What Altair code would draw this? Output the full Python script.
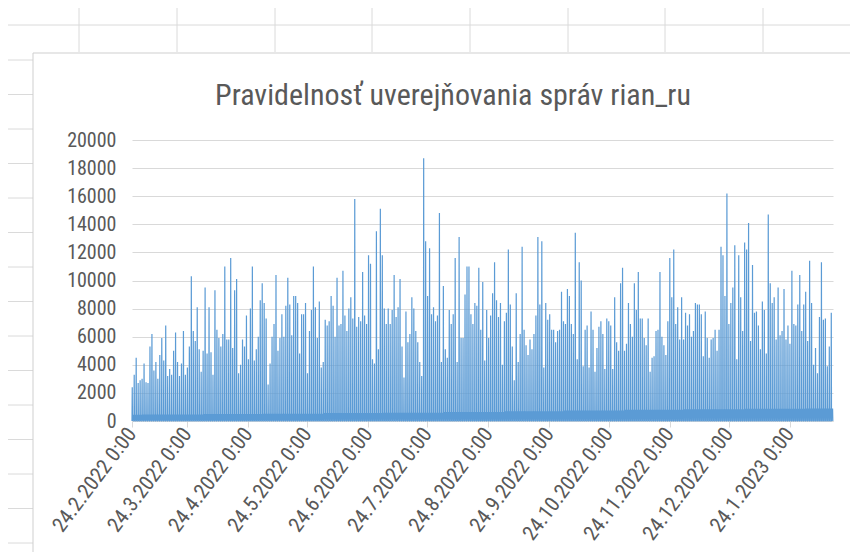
import altair as alt
import pandas as pd

TITLE = "Pravidelnosť uverejňovania správ rian_ru"
START = "2022-02-24"

# daily peak values (one spike per day)
PEAKS = [
    # 24.2. - ~23.4.2022
    2400, 3300, 4500, 2700, 2900, 3000, 4100, 2750, 2700, 5300,
    6200, 3600, 4200, 3000, 4700, 5900, 4300, 6800, 3200, 3700,
    3300, 5000, 6300, 4200, 3200, 4100, 6400, 3300, 3800, 5300,
    10300, 6400, 5700, 8100, 5100, 3500, 5000, 9500, 4800, 8100,
    4900, 3300, 9300, 6500, 5900, 5300, 6200, 11000, 5800, 5800,
    11600, 5200, 9300, 10100, 3400, 4000, 5800, 5300, 7500,
    # ~24.4. - ~22.6.2022
    4400, 8000, 11000, 4300, 5100, 6000, 8600, 9800, 8400, 7300,
    2600, 4100, 6000, 6900, 10400, 5000, 5900, 7600, 6000, 8200,
    10200, 8300, 6100, 8900, 8900, 8400, 4800, 7600, 7600, 8400,
    3400, 6400, 7900, 11000, 8100, 5900, 8500, 3800, 4200, 7200,
    6800, 7100, 8900, 8200, 6000, 10200, 6800, 6900, 10700, 7500,
    6400, 8000, 8800, 7300, 15800, 6700, 7400, 7100, 10600, 7500,
    # ~23.6. - ~21.8.2022
    6900, 11800, 11200, 4400, 4100, 13500, 5100, 15100, 11800, 8000,
    6900, 8000, 6900, 7900, 10400, 7400, 8100, 10100, 5300, 3100,
    7800, 5600, 6200, 8800, 8000, 6400, 5600, 4200, 3200, 18700,
    12800, 8900, 12300, 7600, 8100, 7100, 7500, 14800, 4200, 9600,
    5100, 4500, 7900, 6900, 7600, 11600, 4200, 13100, 5900, 5900,
    9000, 11000, 11000, 7600, 6900, 8400, 8200, 10900, 6500, 9900,
    # ~22.8. - ~20.10.2022
    4300, 7900, 5900, 7500, 9100, 11300, 8600, 7400, 8400, 4000,
    7100, 7700, 12200, 8300, 5300, 2900, 9100, 4200, 6200, 12400,
    6500, 5400, 4700, 5800, 5100, 6200, 7500, 13100, 8300, 12800,
    3800, 8400, 7200, 7600, 6500, 6500, 5600, 6400, 6500, 9200,
    7100, 6900, 9400, 8900, 6900, 6200, 13400, 4400, 11300, 10000,
    3900, 6500, 6800, 3800, 7800, 6500, 3500, 5200, 6700, 7100,
    # ~21.10. - ~19.12.2022
    6200, 3700, 7300, 7100, 6800, 3700, 8800, 5600, 5000, 9800,
    10900, 5000, 5500, 8400, 6900, 6000, 9800, 7900, 10600, 7300,
    7300, 5900, 5400, 7300, 3500, 4500, 4600, 6400, 6500, 10600,
    6000, 5400, 4700, 7100, 11600, 8800, 12200, 6900, 8100, 5800,
    8800, 5800, 7700, 6800, 7600, 6000, 6400, 8400, 8300, 8300,
    7600, 4600, 7800, 5900, 4500, 5800, 5900, 6500, 5000, 6500,
    # ~20.12.2022 - ~14.2.2023
    12400, 11800, 8900, 16200, 6900, 8400, 9500, 12500, 4400, 11800,
    8800, 6400, 12700, 12200, 14100, 5700, 11100, 7700, 7800, 6800,
    5100, 8500, 7900, 4800, 14700, 9800, 8400, 8800, 5800, 9500,
    6100, 6400, 9400, 5800, 6800, 5500, 10700, 6900, 6800, 8300,
    10400, 6400, 8300, 9200, 5700, 11400, 8400, 4000, 5200, 3400,
    7400, 11300, 7200, 7300, 3900, 5300, 7700,
]

# typical (baseline) level per calendar month, Feb 2022 ... Feb 2023
BASELINE = [400, 420, 450, 480, 520, 550, 600, 650, 700, 760, 800, 830, 850]

# within-day pattern: hour of day and which level is used
DAY_HOURS = [0, 3, 6, 8, 19, 22]
DAY_LEVEL = ["zero", "peak", "zero", "base", "base", "zero"]

TICK_MONTHS = [(2022, 2), (2022, 3), (2022, 4), (2022, 5), (2022, 6), (2022, 7),
               (2022, 8), (2022, 9), (2022, 10), (2022, 11), (2022, 12), (2023, 1)]
Y_TICKS = [0, 2000, 4000, 6000, 8000, 10000, 12000, 14000, 16000, 18000, 20000]

start = pd.Timestamp(START)
rows = []
for i, p in enumerate(PEAKS):
    day = start + pd.Timedelta(days=i)
    m = (day.year - 2022) * 12 + day.month - 2
    b = BASELINE[m]
    for h, lvl in zip(DAY_HOURS, DAY_LEVEL):
        v = p if lvl == "peak" else (b if lvl == "base" else 0)
        rows.append({"t": (day + pd.Timedelta(hours=h)).strftime("%Y-%m-%dT%H:%M:%SZ"), "v": v})
df = pd.DataFrame(rows)

end_day = start + pd.Timedelta(days=len(PEAKS))

NARROW = "Liberation Sans Narrow, Arial Narrow, Roboto Condensed, sans-serif"
GRAY_TXT = "#595959"
GRID = "#d9d9d9"
SHEET = "#dadada"

line = alt.Chart(df).mark_line(color="#5B9BD5", strokeWidth=1.2).encode(
    x=alt.X("t:T",
            scale=alt.Scale(type="utc",
                            domain=[alt.DateTime(year=2022, month=2, date=24, utc=True),
                                    alt.DateTime(year=end_day.year, month=end_day.month,
                                                 date=end_day.day, utc=True)]),
            axis=alt.Axis(values=[alt.DateTime(year=y, month=mo, date=24, utc=True)
                                  for y, mo in TICK_MONTHS],
                          labelExpr="utcFormat(datum.value, '%-d.%-m.%Y %-H:%M')",
                          labelAngle=-53, labelAlign="right", labelBaseline="middle",
                          labelFont=NARROW, labelFontSize=21, labelColor=GRAY_TXT,
                          labelPadding=3, labelOverlap=False, labelFlush=False,
                          tickColor=GRID, tickSize=6, domainColor=GRID,
                          grid=False, title=None)),
    y=alt.Y("v:Q",
            scale=alt.Scale(domain=[0, 20000], nice=False),
            axis=alt.Axis(values=Y_TICKS, format="d", grid=True, gridColor=GRID,
                          domain=False, ticks=False, labelPadding=16,
                          labelFont=NARROW, labelFontSize=20, labelColor=GRAY_TXT,
                          title=None)),
)

dummy = pd.DataFrame({"a": [0]})
decor = []
# spreadsheet column lines above the chart box
for xv in [-53, 45, 143, 240, 338, 436, 533, 631]:
    decor.append(alt.Chart(dummy).mark_rule(color=SHEET, strokeWidth=1).encode(
        x=alt.value(xv), y=alt.value(-132), y2=alt.value(-88)))
# spreadsheet row lines
decor.append(alt.Chart(dummy).mark_rule(color=SHEET, strokeWidth=1).encode(
    x=alt.value(-124), x2=alt.value(730), y=alt.value(-115)))
for yv in [-80, -45.5, -11, 23.5, 58, 92.5, 127, 161.5, 196, 230.5, 265, 299.5, 334, 368.5, 403]:
    decor.append(alt.Chart(dummy).mark_rule(color=SHEET, strokeWidth=1).encode(
        x=alt.value(-124), x2=alt.value(-99), y=alt.value(yv)))
# chart box border (left and top edges)
decor.append(alt.Chart(dummy).mark_rule(color="#cfcfcf", strokeWidth=1).encode(
    x=alt.value(-99), y=alt.value(-87), y2=alt.value(420)))
decor.append(alt.Chart(dummy).mark_rule(color="#cfcfcf", strokeWidth=1).encode(
    x=alt.value(-99), x2=alt.value(730), y=alt.value(-87)))

title = alt.Chart(dummy).mark_text(font=NARROW, fontSize=30, color=GRAY_TXT,
                                   align="center", baseline="alphabetic").encode(
    x=alt.value(321), y=alt.value(-35), text=alt.value(TITLE))

chart = alt.layer(*decor, line, title).properties(
    width=701, height=281,
    autosize=alt.AutoSizeParams(type="none"),
    padding={"left": 124, "top": 132, "right": 17, "bottom": 131},
    background="white",
).configure_view(stroke=None)

chart.save("out.html", embed_options={"renderer": "svg", "actions": False})
